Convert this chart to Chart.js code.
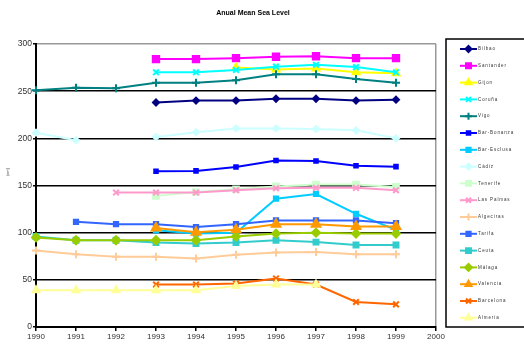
<!DOCTYPE html>
<html>
<head>
<meta charset="utf-8">
<script src="https://cdn.jsdelivr.net/npm/chart.js@4.4.0/dist/chart.umd.min.js"></script>
<style>
  html, body { margin: 0; padding: 0; background: #fff; }
  #wrap { width: 524px; height: 344px; }
</style>
</head>
<body>
<div id="wrap"><canvas id="seaChart" width="524" height="344"></canvas></div>
<script>
// jaren op de x-as
var jaren = ['1990','1991','1992','1993','1994','1995','1996','1997','1998','1999','2000'];

// gemiddeld zeeniveau per station (cm), null = geen meting
var bilbao     = [null, null, null, 238, 240, 240, 242, 242, 240, 241, null];
var santander  = [null, null, null, 284, 284, 285, 286.5, 287, 285, 285, null];
var gijon      = [null, null, null, null, null, 275, 273, 274, 270, 269, null];
var coruna     = [null, null, null, 270, 270, 272.5, 276, 278, 275.5, 270, null];
var vigo       = [251, 253.5, 253, 259, 259, 261.5, 268, 268, 263, 259, null];
var barBonanza = [null, null, null, 165, 165.5, 169.5, 176.5, 176, 171, 170, null];
var barEsclusa = [null, null, null, 102.5, 99, 100, 136, 141, 120, 103, null];
var cadiz      = [206, 198, null, 201.5, 206.5, 210.5, 210.5, 210, 208.5, 200, null];
var tenerife   = [null, null, null, 139, 143, 146, 149, 151, 151, 148.5, null];
var lasPalmas  = [null, null, 142.5, 142.5, 142.5, 145, 147, 147.5, 147.5, 145, null];
var algeciras  = [81, 77, 74.5, 74.5, 72.5, 76.5, 79, 79.5, 77, 77, null];
var tarifa     = [null, 111.5, 109, 109, 106, 109, 113, 113, 113, 110, null];
var ceuta      = [96, 92, 92, 89.5, 88.5, 89.5, 92, 90, 87, 87, null];
var malaga     = [95, 92, 92, 92, 92, 96, 99, 100, 99, 99, null];
var valencia   = [null, null, null, 105, 100.5, 103, 109, 109, 106.5, 106.5, null];
var barcelona  = [null, null, null, 45, 45, 46, 51.5, 45, 26.5, 24, null];
var almeria    = [39, 39, 39, 39, 39, 43.5, 45, 45, null, null, null];

var stationNamen = ['Bilbao','Santander','Gijon','Coruña','Vigo','Bar-Bonanza','Bar-Esclusa','Cádiz','Tenerife',
  'Las Palmas','Algeciras','Tarifa','Ceuta','Málaga','Valencia','Barcelona','Almeria'];
var stationData = [bilbao, santander, gijon, coruna, vigo, barBonanza, barEsclusa, cadiz, tenerife,
  lasPalmas, algeciras, tarifa, ceuta, malaga, valencia, barcelona, almeria];

// kleur en marker per station
var kleuren = ['#000080','#ff00ff','#ffff00','#00ffff','#008080','#0000ff','#00ccff','#ccffff','#ccffcc',
  '#ff99cc','#ffcc99','#3366ff','#33cccc','#99cc00','#ff9900','#ff6600','#ffff99'];
var markers = ['rectRot','rect','triangle','crossRot','cross','rect','rect','rectRot','rect',
  'crossRot','cross','rect','rect','rectRot','triangle','crossRot','triangle'];
var markerGrootte = [3, 4.5, 4, 4, 4, 2.5, 3, 3, 4, 4, 4, 3, 3.5, 4, 5, 4, 4];

var datasets = stationNamen.map(function (naam, i) {
  return {
    label: naam,
    data: stationData[i],
    borderColor: kleuren[i],
    backgroundColor: kleuren[i],
    pointStyle: markers[i],
    pointRadius: markerGrootte[i],
    pointBorderWidth: 2,
    borderWidth: 2,
    spanGaps: false,
    order: stationNamen.length - i
  };
});

// legenda en titels zelf tekenen
var extraTekenen = {
  id: 'extraTekenen',
  afterDraw: function (chart) {
    var ctx = chart.ctx;
    ctx.save();
    // titel
    ctx.fillStyle = '#000';
    ctx.font = 'bold 7px Arial, "Liberation Sans"';
    ctx.textAlign = 'center';
    ctx.textBaseline = 'middle';
    ctx.fillText('Anual Mean Sea Level', 253, 13);

    // y-as titel
    ctx.save();
    ctx.translate(8, 172);
    ctx.rotate(-Math.PI / 2);
    ctx.font = '4px Arial';
    ctx.fillStyle = '#333';
    ctx.fillText('(cm)', 0, 0);
    ctx.restore();

    // legenda kader
    ctx.strokeStyle = '#000';
    ctx.lineWidth = 1.5;
    ctx.strokeRect(446, 39, 90, 288);

    ctx.font = '4.5px Arial, "Liberation Sans"';
    ctx.textAlign = 'left';
    ctx.letterSpacing = '0.9px';
    for (var i = 0; i < stationNamen.length; i++) {
      var y = 49 + i * 16.8;
      ctx.strokeStyle = kleuren[i];
      ctx.lineWidth = 2;
      ctx.beginPath();
      ctx.moveTo(460, y);
      ctx.lineTo(477, y);
      ctx.stroke();
      ctx.fillStyle = kleuren[i];
      Chart.helpers.drawPoint(ctx, {
        pointStyle: markers[i],
        radius: Math.min(markerGrootte[i], 3.5),
        rotation: 0,
        borderWidth: 2
      }, 468.5, y);
      ctx.fillStyle = '#333';
      ctx.fillText(stationNamen[i], 478, y);
    }
    ctx.restore();
  }
};

var ctx = document.getElementById('seaChart').getContext('2d');
var seaChart = new Chart(ctx, {
  type: 'line',
  data: { labels: jaren, datasets: datasets },
  options: {
    responsive: false,
    animation: false,
    layout: { padding: { top: 44, right: 88, left: 0, bottom: 0 } },
    plugins: {
      legend: { display: false },
      tooltip: { enabled: false },
      title: { display: false }
    },
    scales: {
      x: {
        offset: false,
        afterFit: function (scale) { scale.height = 17; },
        grid: {
          color: function (c) { return c.index === jaren.length - 1 ? '#999' : 'rgba(0,0,0,0)'; },
          lineWidth: 1.5,
          tickColor: '#000',
          tickLength: 4
        },
        border: { color: '#000', width: 2 },
        ticks: {
          color: '#333',
          font: { family: 'Arial', size: 8 },
          maxRotation: 0,
          autoSkip: false,
          padding: 1
        }
      },
      y: {
        min: 0,
        max: 300,
        afterFit: function (scale) { scale.width = 36; },
        grid: {
          color: function (c) { return c.tick.value === 300 ? '#999' : '#000'; },
          lineWidth: 1.5,
          tickColor: '#000',
          tickLength: 3
        },
        border: { color: '#000', width: 2 },
        ticks: {
          stepSize: 50,
          color: '#333',
          font: { family: 'Arial', size: 8.5 },
          padding: 1
        }
      }
    }
  },
  plugins: [extraTekenen]
});
</script>
</body>
</html>
